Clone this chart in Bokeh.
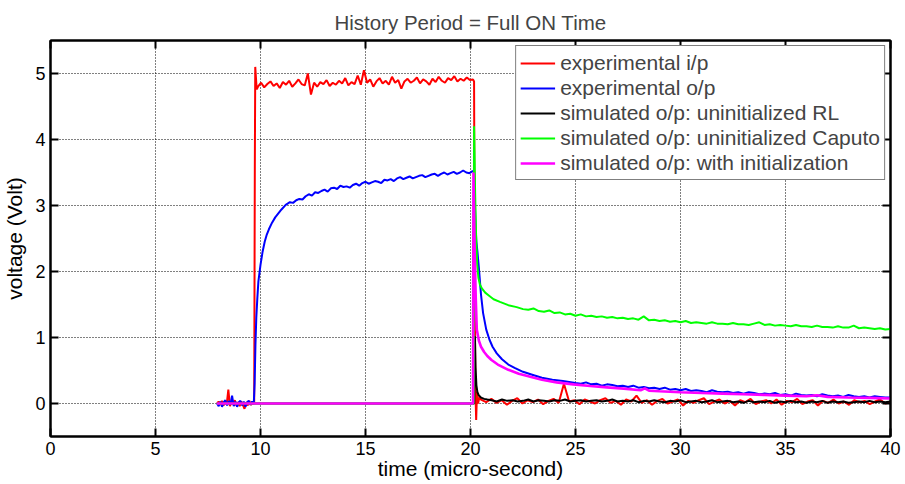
import numpy as np
from bokeh.plotting import figure
from bokeh.models import LinearAxis, FixedTicker
from bokeh.embed import file_html
from bokeh.resources import INLINE

FONT = "Liberation Sans"

# ---------------- data ----------------
x_ticks = [0, 5, 10, 15, 20, 25, 30, 35, 40]
y_ticks = [0, 1, 2, 3, 4, 5]

# experimental i/p (red)
red_base_v = [0.00, 0.03, -0.02, 0.04, -0.03, 0.02, -0.01, 0.21, -0.04, 0.03, 0.00, 0.05,
              -0.03, 0.02, -0.04, 0.03, -0.02, -0.08, 0.02, -0.03, 0.04, -0.02, 0.01, 0.00]
red_rise_t = [9.73, 9.75, 9.78, 9.82]
red_rise_v = [3.6, 5.1, 4.95, 4.76]
red_top_v = [4.80, 4.86, 4.79, 4.84, 4.88, 4.81, 4.85, 4.78, 4.87, 4.83,
             4.89, 4.80, 4.85, 4.91, 4.84, 4.82, 5.00, 4.68, 4.86, 4.80,
             4.87, 4.84, 4.90, 4.81, 4.86, 4.83, 4.89, 4.85, 4.93, 4.82,
             4.87, 4.84, 4.97, 4.83, 5.05, 4.86, 4.91, 4.80, 4.88, 4.93,
             4.85, 4.89, 4.83, 4.95, 4.86, 4.90, 4.77, 4.88, 4.92, 4.86,
             4.89, 4.94, 4.85, 4.91, 4.88, 4.83, 4.92, 4.87, 4.95, 4.89,
             4.86, 4.93, 4.90, 4.96, 4.88, 4.92, 4.89, 4.94, 4.90, 4.91]
red_drop_t = [20.17, 20.20, 20.23, 20.27, 20.31, 20.36, 20.42]
red_drop_v = [4.88, 2.0, 0.25, -0.25, 0.18, 0.00, 0.09]
red_tail_v = [0.06, 0.02, 0.07, 0.01, 0.05, -0.02, 0.04, 0.08, 0.00, 0.05,
              0.02, 0.06, -0.01, 0.04, 0.07, 0.01, 0.30, 0.03, 0.05, -0.01,
              0.06, 0.03, 0.00, 0.05, 0.08, 0.01, 0.04, -0.02, 0.06, 0.03,
              0.12, 0.01, 0.05, -0.02, 0.04, 0.07, 0.00, 0.03, 0.06, -0.03,
              0.04, 0.01, 0.05, 0.08, -0.01, 0.03, 0.06, 0.00, 0.04, -0.03,
              0.05, 0.02, 0.07, -0.01, 0.03, 0.05, 0.00, 0.06, -0.02, 0.04,
              0.02, 0.07, -0.01, 0.03, 0.05, -0.03, 0.04, 0.01, 0.06, 0.00,
              0.03, -0.02, 0.05, 0.02, 0.04, -0.01, 0.03, 0.06, 0.00, 0.02]

# experimental o/p (blue)
blue_base_v = [0.00, -0.04, 0.03, -0.05, 0.02, 0.05, -0.03, 0.04, -0.02, 0.12, -0.04, 0.03,
               -0.05, 0.02, 0.04, -0.03, 0.03, -0.05, 0.02, 0.04, -0.02, 0.03, 0.00]
blue_rise_t = [9.72, 9.76, 9.80, 9.85, 9.90, 10.0, 10.1, 10.2, 10.3, 10.4, 10.55, 10.7, 10.85, 11.0, 11.2]
blue_rise_v = [0.3, 0.9, 1.3, 1.6, 1.85, 2.1, 2.3, 2.45, 2.56, 2.64, 2.74, 2.82, 2.88, 2.94, 3.01]
blue_mid_v = [3.05, 3.04, 3.08, 3.10, 3.09, 3.14, 3.17, 3.15, 3.20, 3.19,
              3.22, 3.24, 3.21, 3.26, 3.27, 3.25, 3.30, 3.28, 3.29, 3.27,
              3.31, 3.33, 3.30, 3.34, 3.36, 3.33, 3.35, 3.37, 3.36, 3.34,
              3.39, 3.38, 3.40, 3.37, 3.41, 3.43, 3.40, 3.42, 3.44, 3.41,
              3.43, 3.45, 3.46, 3.43, 3.45, 3.47, 3.48, 3.45, 3.48, 3.50,
              3.47, 3.49, 3.51, 3.48, 3.50, 3.53, 3.50, 3.49, 3.52]
blue_fall_t = [20.16, 20.20, 20.24, 20.28, 20.33, 20.4, 20.5, 20.6, 20.75, 20.9, 21.05,
               21.25, 21.5, 21.8, 22.1, 22.5, 22.9, 23.4, 23.9, 24.4, 25.0]
blue_fall_v = [3.52, 3.1, 2.7, 2.45, 2.3, 2.05, 1.65, 1.37, 1.12, 0.97, 0.86,
               0.76, 0.67, 0.59, 0.54, 0.48, 0.44, 0.39, 0.36, 0.34, 0.31]
blue_tail_v = [0.30, 0.32, 0.29, 0.30, 0.27, 0.29, 0.28, 0.26, 0.27, 0.25,
               0.27, 0.24, 0.25, 0.23, 0.24, 0.22, 0.24, 0.21, 0.22, 0.20,
               0.22, 0.19, 0.20, 0.19, 0.17, 0.20, 0.18, 0.17, 0.18, 0.16,
               0.17, 0.15, 0.17, 0.16, 0.14, 0.15, 0.14, 0.16, 0.13, 0.14,
               0.12, 0.15, 0.13, 0.12, 0.13, 0.11, 0.14, 0.12, 0.11, 0.12,
               0.10, 0.13, 0.11, 0.10, 0.11, 0.09, 0.11, 0.10, 0.09, 0.09]

# simulated o/p: uninitialized RL (black)
black_head_t = [7.93, 20.18, 20.21, 20.24, 20.28, 20.33, 20.4, 20.5, 20.65, 20.8]
black_head_v = [0.0, 0.0, 1.02, 0.55, 0.28, 0.17, 0.12, 0.09, 0.07, 0.06]
black_tail_v = [0.05, 0.03, 0.06, 0.04, 0.05, 0.03, 0.04, 0.06, 0.03, 0.05,
                0.04, 0.03, 0.05, 0.04, 0.06, 0.03, 0.04, 0.05, 0.03, 0.04,
                0.05, 0.03, 0.04, 0.06, 0.03, 0.04, 0.03, 0.05, 0.02, 0.04,
                0.03, 0.05, 0.03, 0.02, 0.04, 0.03, 0.05, 0.02, 0.03, 0.04,
                0.02, 0.03, 0.05, 0.02, 0.03, 0.04, 0.02, 0.03, 0.01, 0.04,
                0.02, 0.03, 0.02, 0.04, 0.01, 0.03, 0.02, 0.04, 0.02, 0.03,
                0.01, 0.03, 0.02, 0.04, 0.01, 0.03, 0.02, 0.03, 0.01, 0.02,
                0.03, 0.02, 0.04, 0.02, 0.03, 0.02, 0.03]

# simulated o/p: uninitialized Caputo (green)
green_head_t = [7.93, 20.15, 20.17, 20.22, 20.27, 20.32, 20.38, 20.45, 20.55, 20.7, 20.9,
                21.1, 21.4, 21.8, 22.2]
green_head_v = [0.0, 0.0, 4.2, 3.2, 2.5, 2.1, 1.9, 1.8, 1.74, 1.68, 1.63,
                1.58, 1.54, 1.49, 1.46]
green_tail_v = [1.43, 1.42, 1.44, 1.40, 1.39, 1.41, 1.37, 1.38, 1.35, 1.36,
                1.33, 1.35, 1.32, 1.33, 1.31, 1.32, 1.30, 1.31, 1.29, 1.30,
                1.28, 1.29, 1.27, 1.32, 1.26, 1.27, 1.25, 1.26, 1.24, 1.25,
                1.23, 1.25, 1.22, 1.23, 1.22, 1.21, 1.23, 1.21, 1.21, 1.20,
                1.22, 1.20, 1.20, 1.19, 1.21, 1.23, 1.19, 1.20, 1.18, 1.19,
                1.18, 1.17, 1.19, 1.17, 1.17, 1.16, 1.18, 1.16, 1.16, 1.15,
                1.17, 1.15, 1.15, 1.18, 1.14, 1.15, 1.14, 1.13, 1.14, 1.12, 1.13]

# simulated o/p: with initialization (magenta)
mag_t = [7.93, 20.12, 20.14, 20.2, 20.25, 20.3, 20.4, 20.5, 20.65, 20.8,
         21.0, 21.3, 21.8, 22.3, 22.8, 23.4, 24.1, 24.9, 25.7, 26.5,
         27.3, 28.1, 28.3, 28.5, 29.0, 30.0, 31.0, 32.0, 33.0, 34.0,
         35.0, 36.0, 36.5, 37.0, 38.0, 39.0, 40.0]
mag_v = [0.0, 0.0, 3.5, 2.3, 1.6, 1.12, 0.95, 0.86, 0.78, 0.72,
         0.66, 0.59, 0.51, 0.45, 0.41, 0.36, 0.32, 0.29, 0.265, 0.245,
         0.225, 0.20, 0.23, 0.195, 0.185, 0.17, 0.16, 0.15, 0.14, 0.13,
         0.12, 0.11, 0.125, 0.10, 0.09, 0.085, 0.075]

labels = ["experimental i/p", "experimental o/p", "simulated o/p: uninitialized RL",
          "simulated o/p: uninitialized Caputo", "simulated o/p: with initialization"]
colors = ["#ff0000", "#0000ff", "#000000", "#00ff00", "#ff00ff"]
widths = [2, 2, 2, 2, 2.6]

# ---------------- assemble series (sample times are uniform within noisy segments) ----------------
def seg(t0, t1, vals):
    return list(np.linspace(t0, t1, len(vals))), list(vals)

def join(*parts):
    xs, ys = [], []
    for x, y in parts:
        xs += list(x)
        ys += list(y)
    return xs, ys

red = join(seg(7.93, 9.70, red_base_v), (red_rise_t, red_rise_v), seg(9.88, 20.12, red_top_v),
           (red_drop_t, red_drop_v), seg(20.5, 40.0, red_tail_v))
blue = join(seg(7.93, 9.68, blue_base_v), (blue_rise_t, blue_rise_v), seg(11.4, 20.1, blue_mid_v),
            (blue_fall_t, blue_fall_v), seg(25.25, 40.0, blue_tail_v))
black = join((black_head_t, black_head_v), seg(21.0, 40.0, black_tail_v))
green = join((green_head_t, green_head_v), seg(22.5, 40.0, green_tail_v))
mag = (mag_t, mag_v)

# ---------------- figure ----------------
p = figure(width=904, height=483, x_range=(0, 40), y_range=(-0.5, 5.5),
           output_backend="svg", toolbar_location=None,
           title="History Period = Full ON Time",
           min_border_left=48, min_border_right=14, min_border_top=40, min_border_bottom=47)
p.background_fill_color = "white"
p.border_fill_color = "white"
p.outline_line_color = "black"
p.outline_line_width = 2

p.title.align = "center"
p.title.text_font = FONT
p.title.text_font_size = "20.5px"
p.title.text_font_style = "normal"
p.title.standoff = 14

for i, s in enumerate([red, blue, black, green, mag]):
    p.line(s[0], s[1], line_color=colors[i], line_width=widths[i], legend_label=labels[i])

def style_axis(ax, show_labels):
    ax.axis_line_width = 2
    ax.axis_line_color = "black"
    ax.major_tick_in = 8
    ax.major_tick_out = 0
    ax.major_tick_line_width = 2
    ax.minor_tick_line_color = None
    ax.major_label_text_font = FONT
    ax.major_label_text_color = "black"
    ax.axis_label_text_font = FONT
    ax.axis_label_text_font_style = "normal"
    ax.axis_label_text_font_size = "21px"
    ax.axis_label_text_color = "black"
    if show_labels:
        ax.major_label_text_font_size = "18px"
        ax.major_label_standoff = 5
    else:
        ax.major_label_text_font_size = "1px"
        ax.major_label_text_color = None
        ax.major_label_standoff = 0

p.xaxis.ticker = FixedTicker(ticks=x_ticks)
p.yaxis.ticker = FixedTicker(ticks=y_ticks)
p.xaxis.axis_label = "time (micro-second)"
p.yaxis.axis_label = "voltage (Volt)"
p.xaxis.axis_label_standoff = -1
p.yaxis.axis_label_standoff = 6
style_axis(p.xaxis[0], True)
style_axis(p.yaxis[0], True)

top_ax = LinearAxis(ticker=FixedTicker(ticks=x_ticks))
right_ax = LinearAxis(ticker=FixedTicker(ticks=y_ticks))
style_axis(top_ax, False)
style_axis(right_ax, False)
p.add_layout(top_ax, "above")
p.add_layout(right_ax, "right")

xg = p.xgrid[0]
yg = p.ygrid[0]
xg.ticker = FixedTicker(ticks=x_ticks)
yg.ticker = FixedTicker(ticks=y_ticks)
for g in (xg, yg):
    g.grid_line_color = "black"
    g.grid_line_width = 1
    g.grid_line_dash = "1 2"

lg = p.legend[0]
lg.location = "top_right"
lg.margin = 5
lg.padding = 4
lg.spacing = 0
lg.label_height = 25
lg.glyph_width = 35
lg.glyph_height = 20
lg.label_standoff = 5
lg.label_text_font = FONT
lg.label_text_font_size = "21px"
lg.border_line_color = "black"
lg.border_line_width = 1.5
lg.background_fill_color = "white"
lg.background_fill_alpha = 1.0

open("out.html", "w").write(file_html(p, INLINE))
